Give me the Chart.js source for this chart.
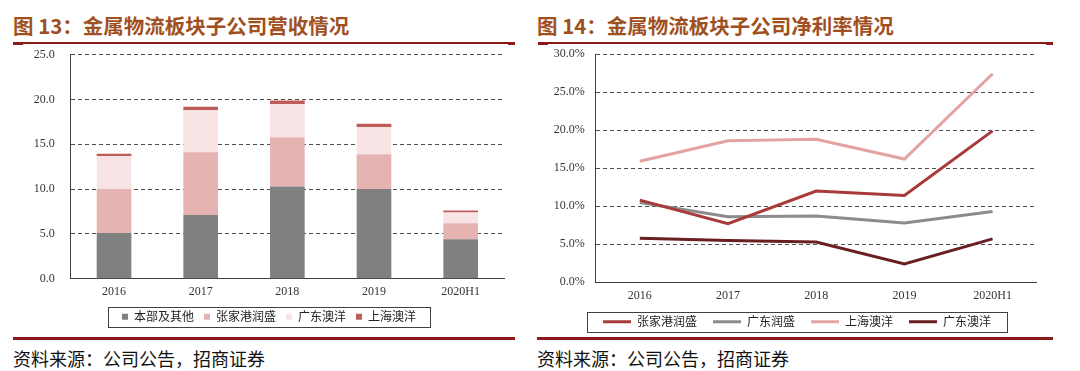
<!DOCTYPE html>
<html>
<head>
<meta charset="utf-8">
<script src="https://cdn.jsdelivr.net/npm/chart.js@4/dist/chart.umd.min.js"></script>
<style>
  body { margin: 0; background: #fff; }
  #page { position: relative; width: 1080px; height: 371px; overflow: hidden; background: #fff; }
  .title { position: absolute; top: 15px; font: bold 20.5px "Noto Sans CJK SC", sans-serif; line-height: 21px; color: #A0501E; white-space: nowrap; }
  .rule { position: absolute; background: #8B1A1A; }
  .source { position: absolute; top: 349px; font: 18px "Noto Sans CJK SC", sans-serif; line-height: 18px; color: #111; white-space: nowrap; }
  canvas { position: absolute; }
</style>
</head>
<body>
<div id="page">
  <div class="title" style="left:13px">图 13：金属物流板块子公司营收情况</div>
  <div class="rule" style="left:14px; top:42px; width:501px; height:1.5px"></div>
  <div class="rule" style="left:13px; top:42px; width:10px; height:3px"></div>
  <div class="rule" style="left:508px; top:42px; width:7px; height:3px"></div>

  <div class="title" style="left:537px">图 14：金属物流板块子公司净利率情况</div>
  <div class="rule" style="left:538px; top:42px; width:515px; height:1.5px"></div>
  <div class="rule" style="left:538px; top:42px; width:10px; height:3px"></div>
  <div class="rule" style="left:1046px; top:42px; width:7px; height:3px"></div>

  <div class="rule" style="left:13px; top:337px; width:502px; height:3px"></div>
  <div class="rule" style="left:537px; top:337px; width:516px; height:3px"></div>

  <div style="position:absolute; left:0; top:44px; width:522px; height:296px"><canvas id="revChart"></canvas></div>
  <div style="position:absolute; left:530px; top:44px; width:530px; height:300px"><canvas id="marginChart"></canvas></div>

  <div class="source" style="left:13px">资料来源：公司公告，招商证券</div>
  <div class="source" style="left:537px">资料来源：公司公告，招商证券</div>
</div>

<script>
// categories
const years = ["2016", "2017", "2018", "2019", "2020H1"];

// 图13 营收（亿元）
const revHeadquarters = [5.1, 7.1, 10.3, 10.0, 4.4];   // 本部及其他
const revZhangjiagang = [4.9, 7.0, 5.5, 3.9, 1.8];     // 张家港润盛
const revGuangdongAoyang = [3.7, 4.7, 3.7, 3.0, 1.2];  // 广东澳洋
const revShanghaiAoyang = [0.25, 0.4, 0.4, 0.4, 0.2];  // 上海澳洋
const revTicks = { min: 0, max: 25, step: 5 };

// 图14 净利率（%）
const marginZhangjiagang = [10.8, 7.7, 12.0, 11.4, 19.9];    // 张家港润盛
const marginGuangdongRunsheng = [10.5, 8.6, 8.7, 7.8, 9.3];  // 广东润盛
const marginShanghaiAoyang = [15.9, 18.6, 18.8, 16.2, 27.4]; // 上海澳洋
const marginGuangdongAoyang = [5.8, 5.5, 5.3, 2.4, 5.7];     // 广东澳洋
const marginTicks = { min: 0, max: 30, step: 5 };

const tickFont = { family: "'Liberation Serif', serif", size: 12 };
const legendFont = { family: "'Noto Sans CJK SC', sans-serif", size: 12 };

// 图例：整体右移 + 外框
const legendFrame = {
    id: "legendFrame",
    afterLayout(chart, args, opts) {
        const lg = chart.legend;
        if (!lg) return;
        lg.left += opts.shift;
        lg.right += opts.shift;
    },
    afterDraw(chart, args, opts) {
        const boxes = chart.legend && chart.legend.legendHitBoxes;
        if (!boxes || !boxes.length) return;
        const left = Math.min(...boxes.map(b => b.left));
        const right = Math.max(...boxes.map(b => b.left + b.width));
        const top = boxes[0].top;
        const h = boxes[0].height;
        const ctx = chart.ctx;
        ctx.save();
        ctx.strokeStyle = "#404040";
        ctx.lineWidth = 1;
        ctx.strokeRect(Math.round(left - opts.padX) + 0.5, Math.round(top - opts.padY) + 0.5,
            Math.round(right - left + opts.padX * 2), Math.round(h + opts.padY * 2));
        ctx.restore();
    }
};

function yAxis(ticks, width, padding, fmt) {
    return {
        min: ticks.min,
        max: ticks.max,
        afterFit: scale => {
            scale.width = width;
            scale.paddingTop = 0;
            scale.paddingBottom = 0;
        },
        ticks: { stepSize: ticks.step, color: "#333", font: tickFont, padding, callback: fmt },
        grid: { color: "#505050", lineWidth: 1, drawTicks: false },
        border: { display: true, color: "#404040", width: 1, dash: [4, 3] }
    };
}

function xAxis(height) {
    return {
        offset: true,
        afterFit: scale => { scale.height = height; },
        ticks: { color: "#333", font: tickFont, padding: 6, maxRotation: 0 },
        grid: { display: false, drawTicks: false },
        border: { display: true, color: "#404040", width: 1 }
    };
}

new Chart(document.getElementById("revChart"), {
    type: "bar",
    data: {
        labels: years,
        datasets: [
            { label: "本部及其他", data: revHeadquarters, backgroundColor: "#808080" },
            { label: "张家港润盛", data: revZhangjiagang, backgroundColor: "#E6B3B3" },
            { label: "广东澳洋", data: revGuangdongAoyang, backgroundColor: "#F8E4E4" },
            { label: "上海澳洋", data: revShanghaiAoyang, backgroundColor: "#BE5C5A" }
        ]
    },
    options: {
        responsive: true,
        maintainAspectRatio: false,
        animation: false,
        datasets: { bar: { categoryPercentage: 1, barPercentage: 0.4, borderWidth: 0 } },
        layout: { padding: { left: 16, right: 18, top: 10.7, bottom: 7.3 } },
        scales: {
            x: { ...xAxis(22), stacked: true },
            y: { ...yAxis(revTicks, 54.7, 16, v => v.toFixed(1)), stacked: true }
        },
        plugins: {
            legend: {
                position: "bottom",
                labels: { boxWidth: 6, boxHeight: 6, padding: 10, color: "#222", font: legendFont }
            },
            tooltip: { enabled: false },
            legendFrame: { padX: 14, padY: 4, shift: 9 }
        }
    },
    plugins: [legendFrame]
});

new Chart(document.getElementById("marginChart"), {
    type: "line",
    data: {
        labels: years,
        datasets: [
            { label: "张家港润盛", data: marginZhangjiagang, borderColor: "#A83A3A", backgroundColor: "#A83A3A" },
            { label: "广东润盛", data: marginGuangdongRunsheng, borderColor: "#8C8C8C", backgroundColor: "#8C8C8C" },
            { label: "上海澳洋", data: marginShanghaiAoyang, borderColor: "#E3A3A3", backgroundColor: "#E3A3A3" },
            { label: "广东澳洋", data: marginGuangdongAoyang, borderColor: "#6A1F22", backgroundColor: "#6A1F22" }
        ]
    },
    options: {
        responsive: true,
        maintainAspectRatio: false,
        animation: false,
        datasets: { line: { borderWidth: 3, pointRadius: 0, tension: 0 } },
        layout: { padding: { left: 13.3, right: 23.3, top: 10, bottom: 6.3 } },
        scales: {
            x: xAxis(17.4),
            y: yAxis(marginTicks, 52.4, 11, v => v.toFixed(1) + "%")
        },
        plugins: {
            legend: {
                position: "bottom",
                labels: {
                    usePointStyle: true, pointStyle: "line", pointStyleWidth: 28, boxHeight: 12,
                    padding: 16, color: "#222", font: legendFont
                }
            },
            tooltip: { enabled: false },
            legendFrame: { padX: 16, padY: 4, shift: 7 }
        }
    },
    plugins: [legendFrame]
});
</script>
</body>
</html>
